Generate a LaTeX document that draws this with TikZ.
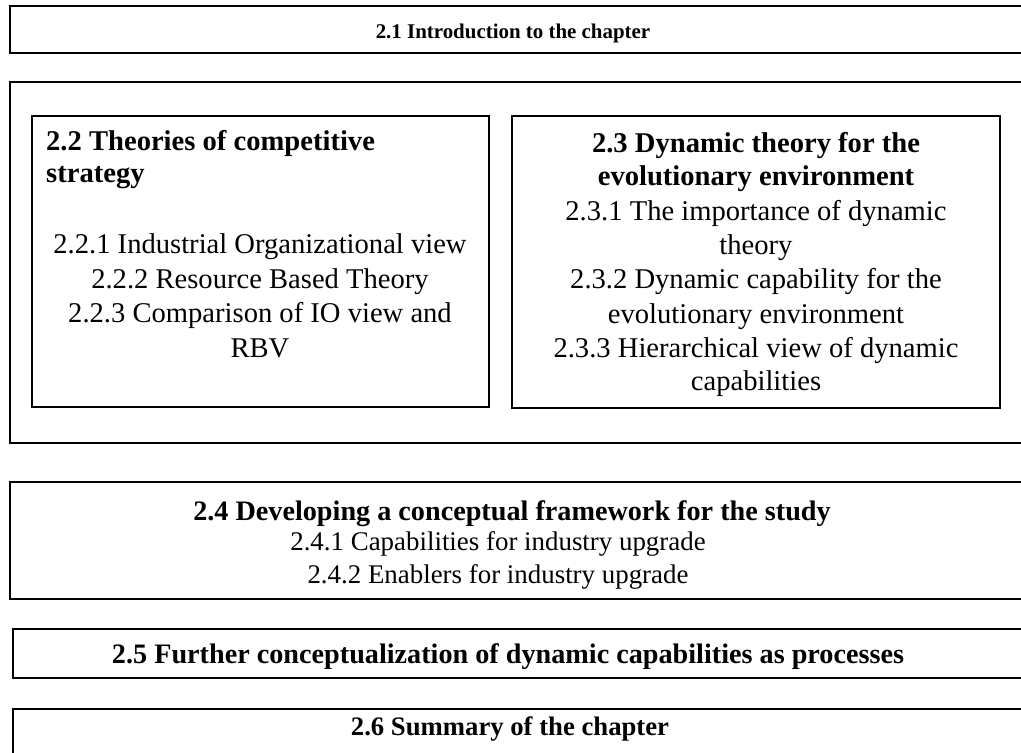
\documentclass[tikz,border=0pt]{standalone}
\usepackage{fontspec}
\setmainfont{Liberation Serif}
\begin{document}
\begin{tikzpicture}[x=1bp,y=-1bp,
  outerbox/.style={draw, line width=2.4bp},
  innerbox/.style={draw, line width=1.6bp},
  body/.style={font=\fontsize{28.7}{34}\selectfont, anchor=base, inner sep=0pt},
  head/.style={font=\fontsize{28.7}{34}\selectfont\bfseries, anchor=base, inner sep=0pt},
  framebody/.style={font=\fontsize{27}{32}\selectfont, anchor=base, inner sep=0pt},
  framehead/.style={font=\fontsize{28.3}{34}\selectfont\bfseries, anchor=base, inner sep=0pt},
  toptitle/.style={font=\fontsize{21}{26}\selectfont\bfseries, anchor=base, inner sep=0pt},
  bartitle/.style={font=\fontsize{28.3}{34}\selectfont\bfseries, anchor=base, inner sep=0pt},
  endtitle/.style={font=\fontsize{26.8}{32}\selectfont\bfseries, anchor=base, inner sep=0pt}]
\useasboundingbox (0,0) rectangle (1021,753);
\clip (0,0) rectangle (1021,753);

% section frames
\draw[outerbox] (10,6) rectangle (1040,53);
\draw[outerbox] (10,82) rectangle (1040,443);
\draw[innerbox] (32,116) rectangle (489,407);
\draw[innerbox] (512,116) rectangle (1000,408);
\draw[outerbox] (10,482) rectangle (1040,599);
\draw[outerbox] (13,629) rectangle (1040,678);
\draw[outerbox] (13,709) rectangle (1040,780);

% 2.1
\node[toptitle] (t21) at (513,39) {2.1 Introduction to the chapter};

% 2.2
\node[head, anchor=base west] (t22a) at (46,150) {2.2 Theories of competitive};
\node[head, anchor=base west] (t22b) at (46,182) {strategy};
\node[body] (t221) at (260,253) {2.2.1 Industrial Organizational view};
\node[body] (t222) at (260,288) {2.2.2 Resource Based Theory};
\node[body] (t223) at (260,322) {2.2.3 Comparison of IO view and};
\node[body] (t223b) at (260,357) {RBV};

% 2.3
\node[head] (t23a) at (756,152) {2.3 Dynamic theory for the};
\node[head] (t23b) at (756,185) {evolutionary environment};
\node[body] (t231) at (756,220) {2.3.1 The importance of dynamic};
\node[body] (t231b) at (756,254) {theory};
\node[body] (t232) at (756,288) {2.3.2 Dynamic capability for the};
\node[body] (t232b) at (756,323) {evolutionary environment};
\node[body] (t233) at (756,357) {2.3.3 Hierarchical view of dynamic};
\node[body] (t233b) at (756,390) {capabilities};

% 2.4
\node[framehead] (t24) at (512,520) {2.4 Developing a conceptual framework for the study};
\node[framebody] (t241) at (498,550) {2.4.1 Capabilities for industry upgrade};
\node[framebody] (t242) at (498,583) {2.4.2 Enablers for industry upgrade};

% 2.5 and 2.6
\node[bartitle] (t25) at (508,663) {2.5 Further conceptualization of dynamic capabilities as processes};
\node[endtitle] (t26) at (510,735) {2.6 Summary of the chapter};
\end{tikzpicture}
\end{document}
